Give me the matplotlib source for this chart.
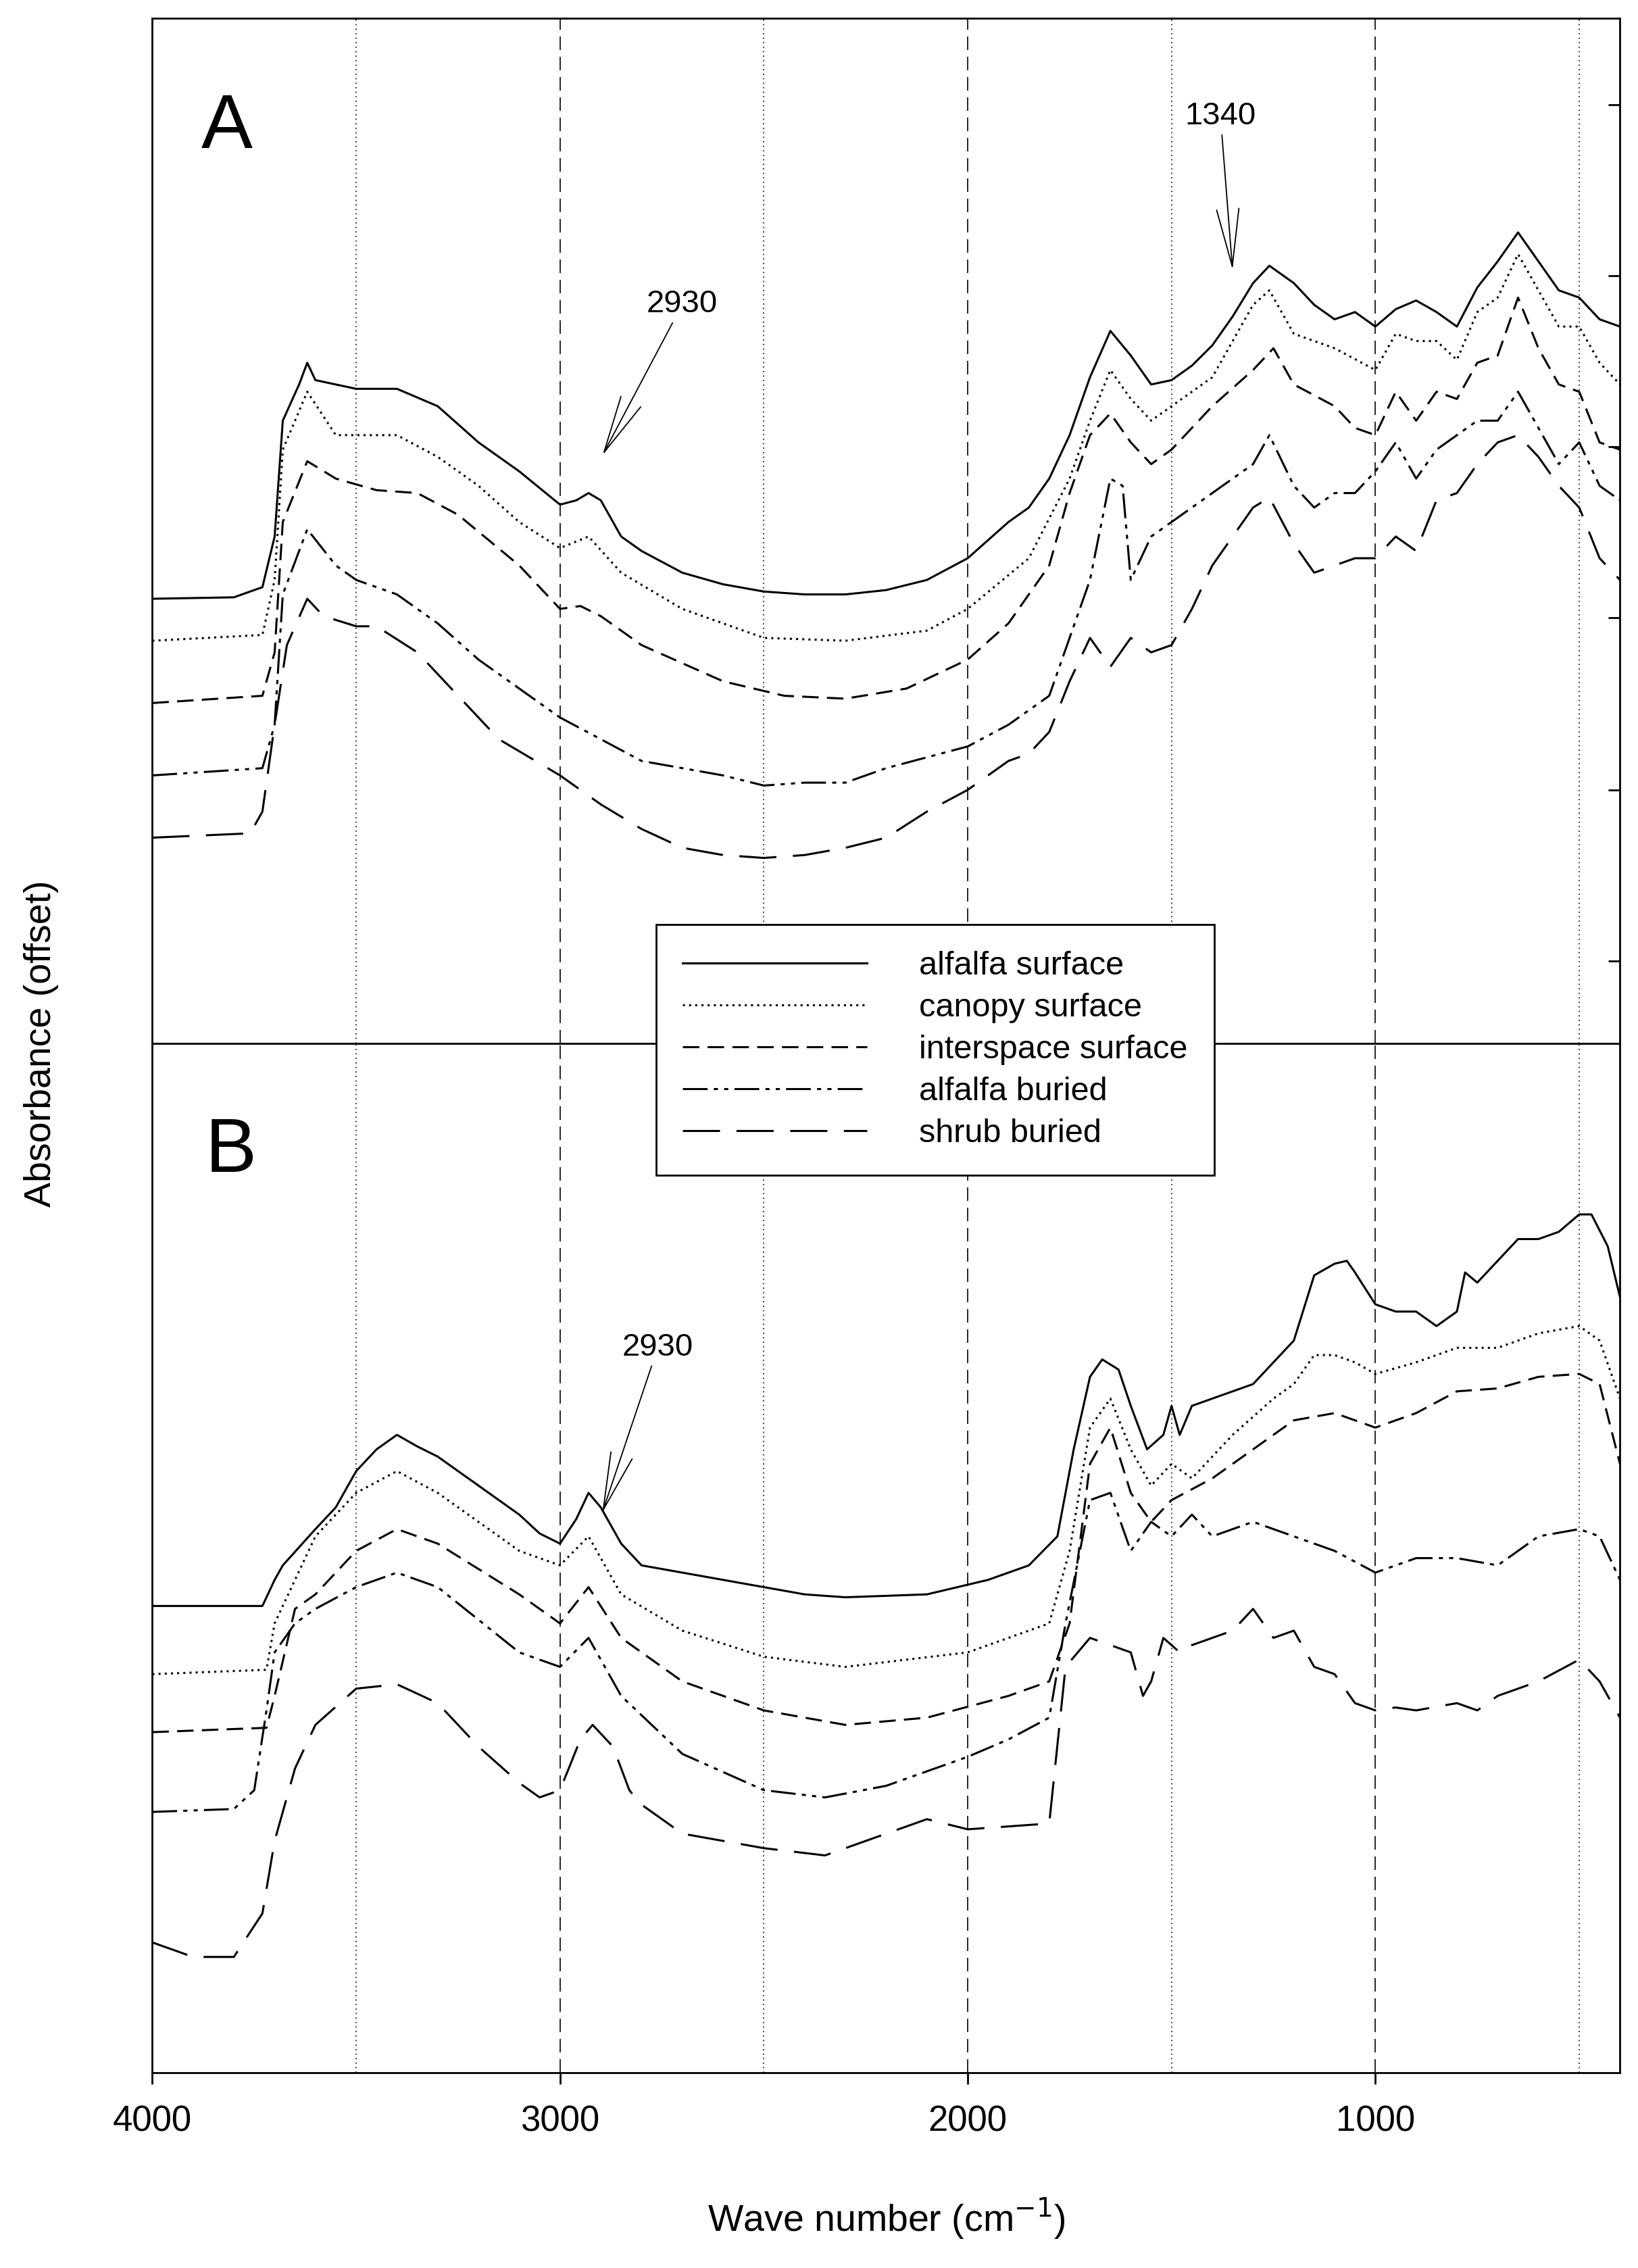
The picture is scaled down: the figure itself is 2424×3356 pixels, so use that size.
import numpy as np
import matplotlib
matplotlib.use('Agg')
import matplotlib.pyplot as plt

plt.rcParams['font.family'] = ['Liberation Sans', 'DejaVu Sans']

# wavenumber / absorbance (offset, arbitrary units)
# panel A
a_alf_x = [4000,3800,3730,3700,3680,3640,3620,3600,3500,3400,3300,3200,3100,3000,2960,2930,2900,2850,2800,2700,2600,2500,2400,2300,2200,2100,2000,1900,1850,1800,1750,1700,1650,1600,1550,1500,1450,1400,1350,1300,1260,1200,1150,1100,1050,1000,950,900,850,800,750,700,650,600,550,500,450,400]
a_alf_y = [413,412,405,370,290,265,250,262,268,268,280,305,325,348,345,340,345,370,380,395,403,408,410,410,407,400,385,360,350,330,300,260,228,245,265,262,252,238,218,195,183,195,210,220,215,225,213,207,215,225,198,180,160,180,200,205,220,225]
a_can_x = [4000,3730,3700,3680,3620,3550,3400,3300,3200,3100,3000,2930,2850,2700,2500,2300,2100,2000,1850,1750,1700,1650,1600,1550,1500,1400,1300,1260,1200,1100,1000,950,900,850,800,750,700,650,600,550,500,450,400]
a_can_y = [442,438,400,310,270,300,300,315,335,360,378,370,395,420,440,442,435,420,385,330,290,255,275,290,280,260,210,200,230,240,255,230,235,235,248,215,205,175,200,225,225,250,265]
a_int_x = [4000,3730,3700,3680,3620,3550,3450,3350,3250,3100,3000,2950,2900,2800,2600,2450,2300,2150,2000,1900,1800,1750,1700,1650,1600,1550,1500,1400,1300,1250,1200,1100,1050,1000,950,900,850,800,750,700,650,600,550,500,450,400]
a_int_y = [485,480,450,360,318,330,338,340,355,390,420,418,425,445,470,480,482,475,455,430,390,340,300,285,305,320,310,280,255,240,265,280,295,300,270,290,270,275,250,245,205,240,265,270,305,310]
a_alb_x = [4000,3730,3700,3680,3620,3550,3500,3400,3300,3200,3100,3000,2900,2800,2600,2500,2400,2300,2200,2000,1900,1850,1800,1750,1700,1650,1620,1600,1550,1500,1450,1400,1300,1260,1200,1150,1100,1050,1000,950,900,850,800,750,700,650,600,550,500,450,400]
a_alb_y = [535,530,500,410,365,390,400,410,430,455,475,495,510,525,535,542,540,540,530,515,500,490,480,440,400,330,335,400,370,360,350,340,320,300,335,350,340,340,325,305,330,310,300,290,290,270,295,320,305,335,345]
a_shb_x = [4000,3760,3730,3700,3670,3620,3580,3500,3450,3350,3250,3150,3000,2900,2800,2700,2600,2500,2400,2300,2200,2100,2000,1900,1850,1800,1750,1700,1650,1600,1550,1500,1450,1400,1300,1260,1200,1150,1100,1050,1000,950,900,850,800,750,700,650,600,550,500,450,400]
a_shb_y = [578,575,560,500,445,413,425,432,432,450,480,510,535,555,572,585,590,592,590,585,578,560,545,525,520,505,470,440,460,440,450,445,420,390,350,343,375,395,390,385,385,370,380,345,340,320,305,300,315,335,350,385,400]

# panel B
b_alf_x = [4000,3730,3700,3680,3600,3550,3500,3450,3400,3350,3300,3200,3100,3050,3000,2960,2930,2900,2850,2800,2600,2400,2300,2100,1950,1850,1780,1740,1700,1670,1630,1600,1560,1520,1500,1480,1450,1400,1350,1300,1250,1200,1150,1100,1070,1050,1000,950,900,850,800,780,750,700,650,600,550,500,470,430,400]
b_alf_y = [1108,1108,1090,1080,1055,1040,1015,1000,990,998,1005,1025,1045,1058,1065,1048,1030,1040,1065,1080,1090,1100,1102,1100,1090,1080,1060,1000,950,938,945,970,1000,990,970,990,970,965,960,955,940,925,880,872,870,878,900,905,905,915,905,878,885,870,855,855,850,838,838,860,895]
b_can_x = [4000,3720,3700,3650,3600,3500,3400,3300,3100,3000,2930,2850,2700,2500,2300,2000,1800,1750,1700,1650,1600,1550,1500,1450,1350,1250,1200,1150,1100,1050,1000,900,800,700,600,500,450,400]
b_can_y = [1155,1152,1120,1090,1060,1030,1015,1030,1070,1080,1060,1100,1125,1143,1150,1140,1120,1070,985,965,1000,1025,1010,1020,990,965,955,935,935,940,948,940,930,930,920,915,925,965]
b_int_x = [4000,3720,3700,3650,3600,3500,3400,3300,3100,3000,2930,2850,2700,2500,2300,2100,1900,1800,1750,1700,1650,1600,1550,1500,1400,1300,1200,1100,1000,900,800,700,600,500,450,400]
b_int_y = [1195,1192,1170,1110,1100,1070,1055,1065,1100,1120,1095,1130,1160,1180,1190,1185,1170,1160,1120,1010,985,1030,1050,1035,1020,1000,980,975,985,975,960,958,950,948,955,1010]
b_alb_x = [4000,3800,3750,3720,3700,3650,3600,3500,3400,3300,3100,3000,2930,2850,2700,2500,2350,2200,2000,1900,1800,1760,1700,1650,1600,1550,1500,1450,1400,1300,1200,1100,1000,900,800,700,600,500,450,400]
b_alb_y = [1250,1248,1235,1180,1140,1120,1110,1095,1085,1095,1140,1150,1130,1170,1210,1235,1240,1232,1212,1200,1185,1120,1035,1030,1070,1050,1060,1045,1060,1050,1060,1070,1085,1075,1075,1080,1060,1055,1060,1090]
b_shb_x = [4000,3900,3800,3730,3700,3650,3600,3500,3400,3300,3200,3100,3050,3000,2950,2920,2870,2830,2800,2700,2500,2350,2200,2100,2000,1900,1800,1760,1700,1650,1600,1570,1550,1520,1480,1450,1400,1350,1300,1250,1200,1150,1100,1050,1000,950,900,800,750,700,600,500,450,400]
b_shb_y = [1340,1350,1350,1320,1270,1220,1190,1165,1162,1175,1205,1230,1240,1235,1200,1190,1205,1235,1245,1265,1275,1280,1265,1255,1262,1260,1258,1150,1130,1135,1140,1170,1160,1130,1140,1135,1130,1125,1110,1130,1125,1150,1155,1175,1180,1178,1180,1175,1180,1170,1160,1145,1160,1185]

labels = ['alfalfa surface', 'canopy surface', 'interspace surface', 'alfalfa buried', 'shrub buried']
styles = ['-', (0, (1, 2)), (0, (8, 4)), (0, (12, 3, 2, 3, 2, 3)), (0, (18, 8))]

fig = plt.figure(figsize=(24.24, 33.56), dpi=100)
axA = fig.add_axes([0.093, 0.540, 0.896, 0.452])
axB = fig.add_axes([0.093, 0.086, 0.896, 0.454])

lw = 2.2
setA = [(a_alf_x, a_alf_y), (a_can_x, a_can_y), (a_int_x, a_int_y), (a_alb_x, a_alb_y), (a_shb_x, a_shb_y)]
setB = [(b_alf_x, b_alf_y), (b_can_x, b_can_y), (b_int_x, b_int_y), (b_alb_x, b_alb_y), (b_shb_x, b_shb_y)]
handles = []
for (x, y), ls, lab in zip(setA, styles, labels):
    h, = axA.plot(x, 720 - np.array(y), color='black', lw=lw, linestyle=ls, label=lab)
    handles.append(h)
for (x, y), ls in zip(setB, styles):
    axB.plot(x, 1430 - np.array(y), color='black', lw=lw, linestyle=ls)

for ax in (axA, axB):
    ax.set_xlim(4000, 400)
    for v in [3000, 2000, 1000]:
        ax.axvline(v, color='black', lw=1.2, linestyle=(0, (12, 6)), zorder=0)
    for v in [3500, 2500, 1500, 500]:
        ax.axvline(v, color='black', lw=1.2, linestyle=(0, (1, 3)), zorder=0)
    for s in ax.spines.values():
        s.set_linewidth(2)

axA.set_ylim(0, 708)
axB.set_ylim(0, 710)
axA.set_xticks([])
axA.set_yticks([57, 175, 294, 412, 530, 648])
axA.yaxis.tick_right()
axA.tick_params(axis='y', direction='in', length=12, width=2, labelright=False)
axB.set_yticks([])
axB.set_xticks([4000, 3000, 2000, 1000])
axB.tick_params(axis='x', direction='out', length=12, width=2, labelsize=38, pad=22)

axA.text(3880, 632, 'A', fontsize=82, ha='left', va='center')
axB.text(3870, 635, 'B', fontsize=82, ha='left', va='center')

arrow = dict(arrowstyle='->,head_length=1.8,head_width=0.35', color='black', lw=1.3)
axA.annotate('2930', xy=(2898, 405), xytext=(2700, 500), fontsize=34,
             ha='center', va='bottom', arrowprops=arrow)
axA.annotate('1340', xy=(1350, 533), xytext=(1380, 630), fontsize=34,
             ha='center', va='bottom', arrowprops=arrow)
axB.annotate('2930', xy=(2898, 385), xytext=(2760, 490), fontsize=34,
             ha='center', va='bottom', arrowprops=arrow)

leg = fig.legend(handles=handles, loc='center', bbox_to_anchor=(0.571, 0.537),
                 fontsize=35, frameon=True, fancybox=False, edgecolor='black',
                 handlelength=5.6, handletextpad=1.6, labelspacing=0.35,
                 borderpad=0.8)
leg.get_frame().set_linewidth(2)
leg.get_frame().set_alpha(1)

fig.text(0.025, 0.54, 'Absorbance (offset)', rotation=90, fontsize=40, ha='center', va='center')
fig.text(0.541, 0.022, 'Wave number (cm$^{-1}$)', fontsize=40, ha='center', va='center')

fig.savefig('out.png', dpi=100)
